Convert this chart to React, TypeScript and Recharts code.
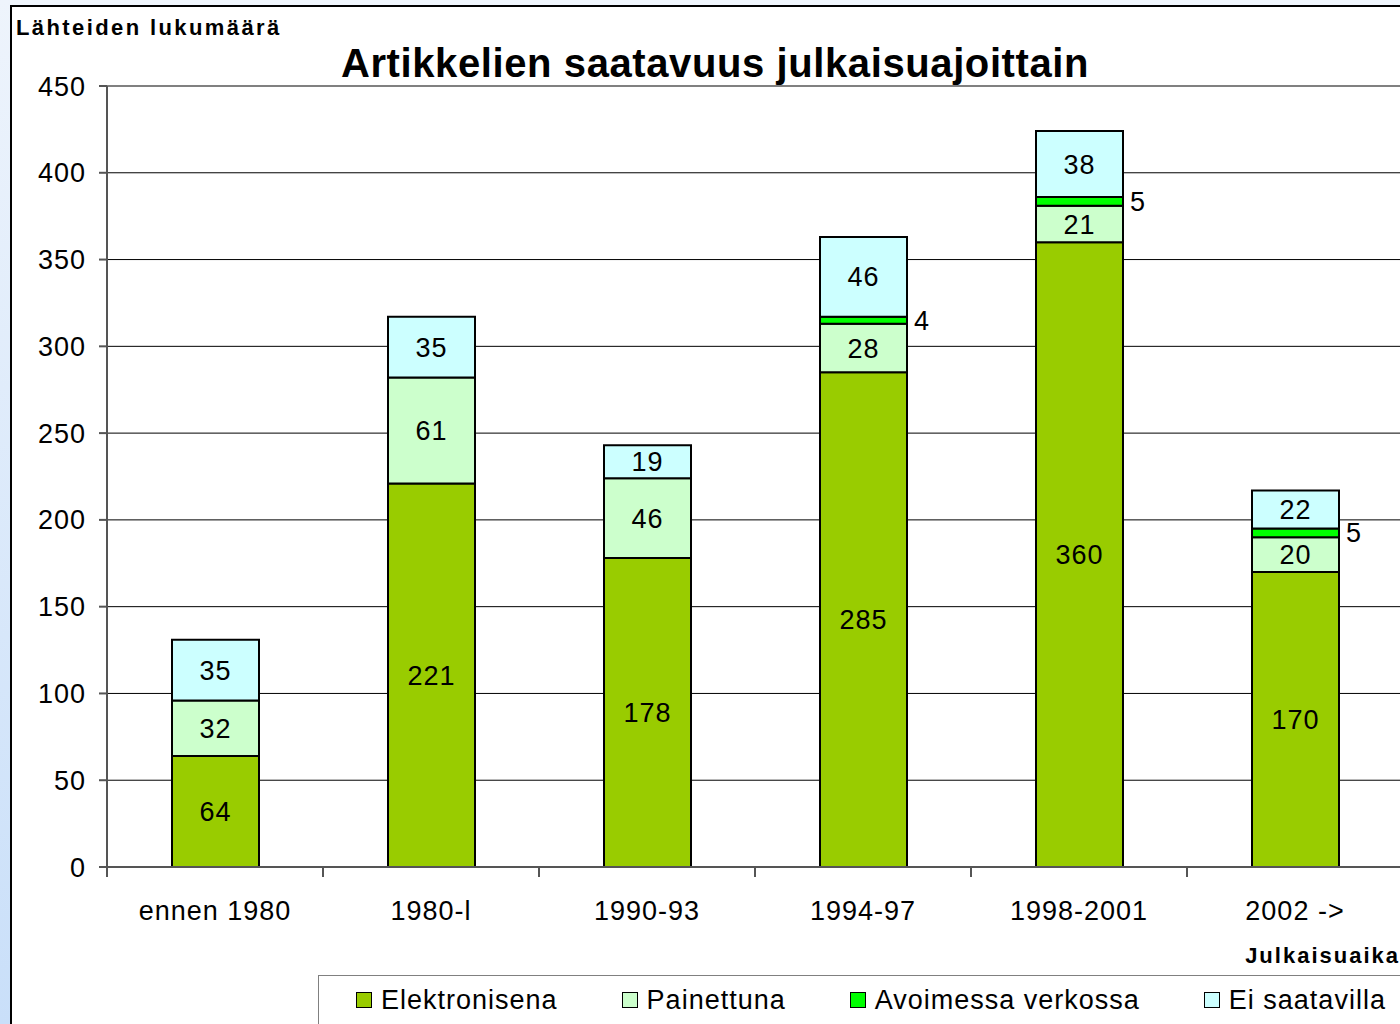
import { Bar, BarChart, CartesianGrid, LabelList, ReferenceLine, XAxis, YAxis } from "recharts"

const categories = ["ennen 1980", "1980-l", "1990-93", "1994-97", "1998-2001", "2002 ->"]
const elektronisena = [64, 221, 178, 285, 360, 170]
const painettuna = [32, 61, 46, 28, 21, 20]
const avoimessa = [0, 0, 0, 4, 5, 5]
const eiSaatavilla = [35, 35, 19, 46, 38, 22]
const yTicks = [0, 50, 100, 150, 200, 250, 300, 350, 400, 450]

const series = [
  { key: "elektronisena", name: "Elektronisena", color: "#99cc00" },
  { key: "painettuna", name: "Painettuna", color: "#ccffcc" },
  { key: "avoimessa", name: "Avoimessa verkossa", color: "#00ff00" },
  { key: "ei", name: "Ei saatavilla", color: "#ccffff" },
]

const data = categories.map((label, i) => ({
  label,
  elektronisena: elektronisena[i],
  painettuna: painettuna[i],
  avoimessa: avoimessa[i],
  ei: eiSaatavilla[i],
}))

const font = "'Liberation Sans', Arial, sans-serif"
const chartWidth = 1440
const chartHeight = 1024
const margin = { top: 86, right: 37, bottom: 97, left: 0 }
const yAxisWidth = 107
const halfBand = (chartWidth - margin.left - margin.right - yAxisWidth) / categories.length / 2

const hideZero = (v: any) => (v ? v : "")

function CategoryTick(props: any) {
  const { x, y, payload } = props
  return (
    <g>
      <line x1={x - halfBand} x2={x - halfBand} y1={y} y2={y + 10} stroke="#555" strokeWidth={2} />
      <text
        x={x}
        y={y + 53}
        textAnchor="middle"
        fontSize={27}
        letterSpacing={1}
        fill="#000"
        fontFamily={font}
      >
        {payload.value}
      </text>
    </g>
  )
}

export default function App() {
  return (
    <div
      style={{
        position: "fixed",
        left: 0,
        top: 0,
        width: 1400,
        height: 1024,
        overflow: "hidden",
        background: "#f0f6fd",
        fontFamily: font,
      }}
    >
      <div
        style={{
          position: "absolute",
          left: 0,
          top: 0,
          width: 10,
          height: 1024,
          background: "linear-gradient(#eef4fc, #c9dff9)",
        }}
      />
      <div
        style={{
          position: "absolute",
          left: 10,
          top: 5,
          right: -20,
          bottom: -20,
          background: "#fff",
          borderTop: "2px solid #000",
          borderLeft: "2px solid #000",
        }}
      />
      <div style={{ position: "absolute", left: 0, top: 0 }}>
        <BarChart width={chartWidth} height={chartHeight} data={data} margin={margin} barSize={87}>
          <CartesianGrid horizontal vertical={false} stroke="#000" strokeWidth={1} />
          <ReferenceLine y={450} stroke="#808080" strokeWidth={2} />
          <XAxis
            dataKey="label"
            height={60}
            tickLine={false}
            tickSize={0}
            tickMargin={0}
            axisLine={{ stroke: "#555", strokeWidth: 2 }}
            tick={<CategoryTick />}
            interval={0}
          />
          <YAxis
            width={yAxisWidth}
            domain={[0, 450]}
            ticks={yTicks}
            interval={0}
            tickSize={8}
            tickMargin={13}
            axisLine={{ stroke: "#555", strokeWidth: 2 }}
            tickLine={{ stroke: "#555", strokeWidth: 2 }}
            tick={{ fontSize: 27, fill: "#000", fontFamily: font, letterSpacing: 1 }}
          />
          {series.map((s) => (
            <Bar
              key={s.key}
              dataKey={s.key}
              name={s.name}
              stackId="a"
              fill={s.color}
              stroke="#000"
              strokeWidth={2}
              isAnimationActive={false}
            >
              <LabelList
                dataKey={s.key}
                position={s.key === "avoimessa" ? "right" : "center"}
                offset={7}
                formatter={hideZero}
                fontSize={27}
                letterSpacing={1}
                fill="#000"
                fontFamily={font}
              />
            </Bar>
          ))}
        </BarChart>
      </div>
      <svg
        width={1400}
        height={1024}
        style={{ position: "absolute", left: 0, top: 0, pointerEvents: "none" }}
      >
        <text x={16} y={35} fontSize={22} fontWeight="bold" letterSpacing={2.4} fontFamily={font} fill="#000">
          Lähteiden lukumäärä
        </text>
        <text
          x={715}
          y={77}
          fontSize={40}
          fontWeight="bold"
          letterSpacing={0.6}
          textAnchor="middle"
          fontFamily={font}
          fill="#000"
        >
          Artikkelien saatavuus julkaisuajoittain
        </text>
        <text
          x={1400}
          y={963}
          fontSize={22}
          fontWeight="bold"
          letterSpacing={2}
          textAnchor="end"
          fontFamily={font}
          fill="#000"
        >
          Julkaisuaika
        </text>
      </svg>
      <div
        style={{
          position: "absolute",
          left: 318,
          top: 975,
          right: -20,
          bottom: -20,
          border: "1.5px solid #808080",
          background: "#fff",
          display: "flex",
          alignItems: "flex-start",
          gap: 64,
          paddingLeft: 37,
          paddingTop: 8,
          boxSizing: "border-box",
        }}
      >
        {series.map((s) => (
          <div key={s.key} style={{ display: "flex", alignItems: "center", gap: 9, whiteSpace: "nowrap" }}>
            <span
              style={{
                width: 14,
                height: 14,
                background: s.color,
                border: "1.5px solid #000",
                display: "inline-block",
              }}
            />
            <span style={{ fontSize: 27, lineHeight: "32px", letterSpacing: 1, color: "#000" }}>{s.name}</span>
          </div>
        ))}
      </div>
    </div>
  )
}
